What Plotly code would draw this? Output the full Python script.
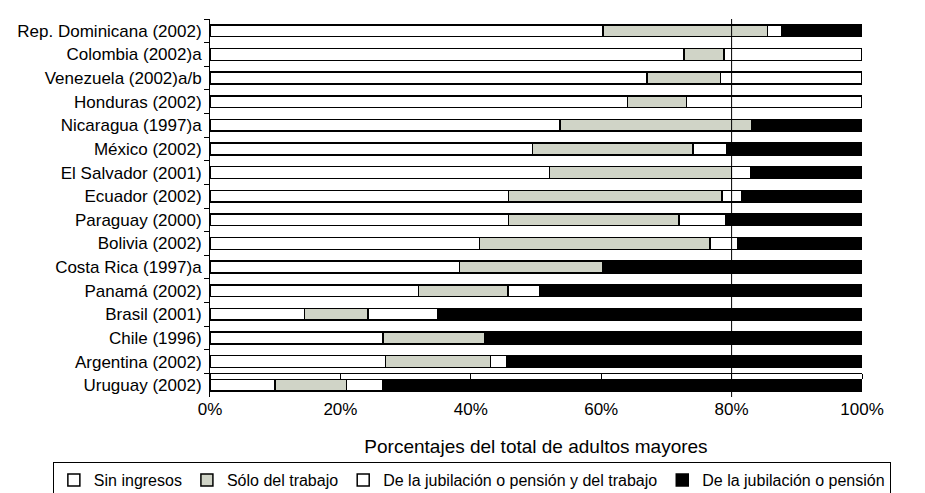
import plotly.graph_objects as go

paises = [
    "Rep. Dominicana (2002)", "Colombia (2002)a", "Venezuela (2002)a/b",
    "Honduras (2002)", "Nicaragua (1997)a", "México (2002)",
    "El Salvador (2001)", "Ecuador (2002)", "Paraguay (2000)",
    "Bolivia (2002)", "Costa Rica (1997)a", "Panamá (2002)",
    "Brasil (2001)", "Chile (1996)", "Argentina (2002)", "Uruguay (2002)",
]

# porcentajes por categoría de ingreso
sin_ingresos = [60.3, 72.7, 67.0, 64.0, 53.7, 49.5, 52.1, 45.8, 45.8, 41.3, 38.3, 32.0, 14.5, 26.5, 26.9, 10.0]
solo_trabajo = [25.2, 6.1, 11.3, 9.1, 29.4, 24.6, 27.9, 32.7, 26.1, 35.4, 22.0, 13.7, 9.7, 15.6, 16.1, 10.9]
jub_y_trabajo = [2.2, 21.2, 21.7, 26.9, 0.0, 5.2, 3.0, 3.0, 7.2, 4.3, 0.0, 4.8, 10.7, 0.0, 2.5, 5.6]
jub_pension = [12.3, 0.0, 0.0, 0.0, 16.9, 20.7, 17.0, 18.5, 20.9, 19.0, 39.7, 49.5, 65.1, 57.9, 54.5, 73.5]

tick_vals = [0, 20, 40, 60, 80, 100]
tick_text = ['0%', '20%', '40%', '60%', '80%', '100%']

series = [
    ("Sin ingresos", sin_ingresos, "white"),
    ("Sólo del trabajo", solo_trabajo, "#d0d4c7"),
    ("De la jubilación o pensión y del trabajo", jub_y_trabajo, "white"),
    ("De la jubilación o pensión", jub_pension, "black"),
]

fig = go.Figure()

for nombre, valores, color in series:
    fig.add_trace(go.Bar(
        y=paises,
        x=valores,
        name=nombre,
        orientation='h',
        marker=dict(color=color, line=dict(color='black', width=1.5)),
    ))

# traza vacía para que se dibuje el eje x secundario
fig.add_trace(go.Scatter(
    x=[None], y=[None], xaxis='x2', yaxis='y',
    showlegend=False, hoverinfo='skip',
))

# línea de referencia al 80%
fig.add_vline(x=80, line_color='black', line_width=1)

fig.update_layout(
    barmode='stack',
    bargap=0.5,
    width=925,
    height=493,
    plot_bgcolor='white',
    paper_bgcolor='white',
    font=dict(family='Liberation Sans, Arial', size=16, color='black'),
    margin=dict(l=202, r=71, t=11, b=104, autoexpand=False),
    legend=dict(
        orientation='h',
        x=-0.241, xanchor='left',
        y=-0.172, yanchor='top',
        bordercolor='black', borderwidth=1,
        font=dict(size=16),
        traceorder='normal',
        itemwidth=30,
    ),
    xaxis=dict(
        range=[0, 100],
        tickvals=tick_vals,
        ticktext=tick_text,
        tickfont=dict(size=17),
        showgrid=False,
        zeroline=False,
        showline=False,
        title=dict(text='Porcentajes del total de adultos mayores',
                   font=dict(size=19), standoff=21),
    ),
    # eje x secundario sin etiquetas (línea con marcas sobre la última barra)
    xaxis2=dict(
        overlaying='x', anchor='free', position=0.063,
        range=[0, 100], tickvals=tick_vals, showticklabels=False,
        showline=True, linecolor='black', linewidth=1,
        ticks='outside', ticklen=5, tickcolor='black',
        showgrid=False, zeroline=False,
    ),
    yaxis=dict(
        autorange='reversed',
        showline=True, linecolor='black', linewidth=1,
        ticks='outside', ticklen=5, tickcolor='black',
        tickson='boundaries',
        ticklabelstandoff=4,
        showgrid=False,
        tickfont=dict(size=17),
    ),
)

fig.write_html("out.html")
